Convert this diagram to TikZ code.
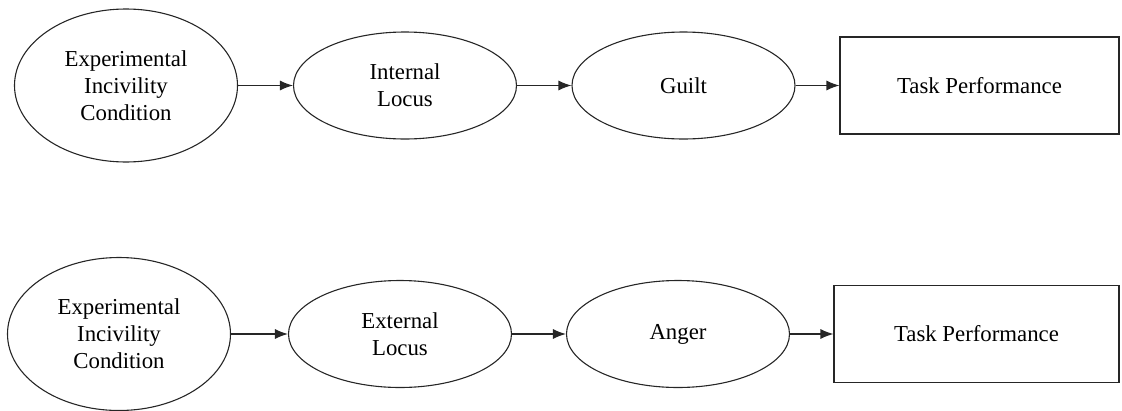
\documentclass[tikz,border=0pt]{standalone}
\usepackage{fontspec}
\setmainfont{Liberation Serif}
\usetikzlibrary{shapes.geometric,arrows.meta}
\begin{document}
\begin{tikzpicture}[x=1pt,y=-1pt,
  every node/.style={font=\fontsize{22.8}{27}\selectfont, align=center, inner sep=0pt},
  oval/.style={ellipse, draw=black!85, line width=1.1pt, minimum width=#1},
  bigoval/.style={oval=223pt, minimum height=153pt},
  smalloval/.style={oval=223pt, minimum height=107pt},
  outcome/.style={rectangle, draw=black!85, line width=1.1pt, minimum height=97pt},
  link/.style={draw=black!85, line width=1.2pt, -{Latex[length=13pt,width=10pt]}}
]
\useasboundingbox (0,0) rectangle (1122,410);

% internal attribution path
\node[bigoval]   (cond1)  at (126,85.5)   {Experimental\\Incivility\\Condition};
\node[smalloval] (locin)  at (405,85.5)   {Internal\\Locus};
\node[smalloval] (guilt)  at (683.5,85.5) {Guilt};
\node[outcome, minimum width=279pt] (perf1) at (979.5,85.5) {Task Performance};

\draw[link] (cond1.east) -- (locin.west);
\draw[link] (locin.east) -- (guilt.west);
\draw[link] (guilt.east) -- (perf1.west);

% external attribution path
\node[bigoval]   (cond2)  at (119,334)   {Experimental\\Incivility\\Condition};
\node[smalloval] (locex)  at (400,334)   {External\\Locus};
\node[smalloval] (anger)  at (678,334)   {Anger};
\node[outcome, minimum width=285pt] (perf2) at (976.5,334) {Task Performance};

\draw[link] (cond2.east) -- (locex.west);
\draw[link] (locex.east) -- (anger.west);
\draw[link] (anger.east) -- (perf2.west);
\end{tikzpicture}
\end{document}
